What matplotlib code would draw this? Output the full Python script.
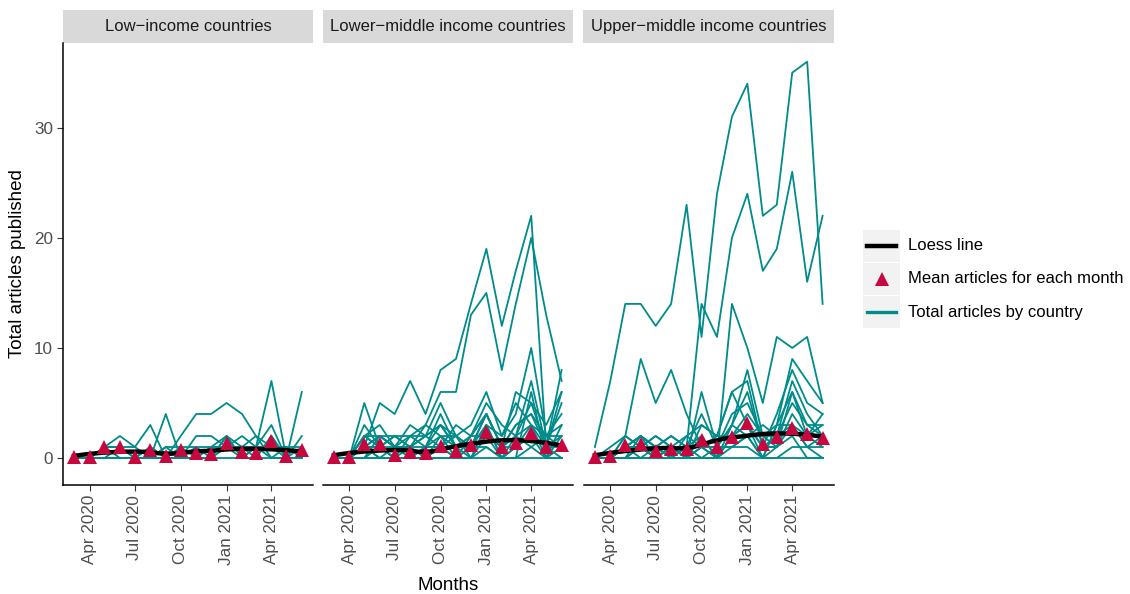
import numpy as np
import pandas as pd
import matplotlib
matplotlib.use("Agg")
import matplotlib.pyplot as plt
import matplotlib.dates as mdates
from matplotlib.patches import Rectangle
from matplotlib.lines import Line2D

plt.rcParams['font.family'] = ['Liberation Sans', 'DejaVu Sans']

# monthly data, Mar 2020 - Jun 2021
months = pd.date_range('2020-03-01', '2021-06-01', freq='MS')
groups = ['Low\u2212income countries', 'Lower\u2212middle income countries',
          'Upper\u2212middle income countries']

# total articles by country (approx)
low_income = [
    [0, 0, 1, 2, 1, 0, 0, 0, 1, 1, 1, 2, 1, 3, 0, 2],
    [0, 0, 1, 1, 1, 3, 0, 0, 0, 1, 2, 1, 1, 1, 0, 1],
    [0, 0, 0, 0, 0, 0, 4, 0, 2, 2, 1, 1, 0, 2, 0, 0],
    [0, 0, 0, 0, 0, 0, 0, 2, 4, 4, 5, 4, 2, 0, 1, 1],
    [0, 0, 1, 1, 0, 0, 1, 1, 1, 0, 2, 0, 1, 7, 0, 6],
    [0, 0, 0, 1, 0, 1, 0, 1, 0, 1, 1, 1, 2, 1, 1, 0],
    [0, 0, 0, 0, 0, 0, 0, 0, 0, 0, 0, 0, 0, 0, 0, 0],
    [0, 0, 0, 0, 0, 0, 1, 0, 0, 0, 1, 0, 0, 2, 0, 0],
    [0, 0, 1, 0, 0, 1, 0, 0, 0, 0, 2, 0, 1, 0, 0, 0],
]
lower_middle = [
    [0, 0, 1, 5, 4, 7, 4, 8, 9, 14, 19, 12, 17, 22, 1, 6],
    [0, 0, 5, 1, 2, 2, 3, 6, 6, 13, 15, 8, 14, 20, 13, 7],
    [0, 0, 2, 1, 2, 1, 2, 5, 2, 3, 6, 2, 4, 10, 2, 3],
    [0, 0, 1, 2, 1, 1, 1, 4, 1, 2, 5, 3, 2, 7, 1, 8],
    [0, 0, 0, 2, 1, 3, 2, 1, 3, 2, 4, 1, 6, 5, 3, 6],
    [0, 0, 3, 1, 0, 2, 1, 3, 2, 1, 4, 1, 3, 4, 2, 4],
    [0, 0, 1, 1, 0, 0, 1, 2, 0, 1, 3, 0, 2, 3, 1, 2],
    [0, 0, 2, 2, 1, 1, 0, 1, 1, 1, 2, 1, 1, 2, 0, 1],
    [0, 0, 0, 0, 0, 0, 1, 1, 0, 2, 2, 0, 1, 2, 1, 1],
    [0, 0, 1, 0, 0, 0, 0, 0, 0, 0, 1, 0, 0, 1, 0, 0],
    [0, 0, 0, 0, 0, 0, 0, 0, 0, 0, 0, 0, 0, 0, 0, 0],
    [0, 0, 1, 1, 0, 1, 0, 2, 1, 0, 3, 0, 1, 3, 0, 2],
    [0, 0, 0, 1, 0, 0, 0, 1, 0, 1, 1, 0, 0, 6, 0, 3],
    [0, 0, 2, 3, 1, 1, 2, 3, 1, 1, 4, 1, 2, 5, 1, 0],
    [0, 0, 1, 2, 2, 1, 3, 2, 2, 1, 3, 2, 5, 3, 2, 2],
    [0, 0, 2, 1, 1, 2, 2, 3, 1, 2, 4, 1, 3, 4, 1, 5],
    [0, 0, 1, 0, 1, 0, 1, 1, 2, 0, 2, 1, 2, 1, 2, 1],
]
upper_middle = [
    [1, 7, 14, 14, 12, 14, 23, 11, 24, 31, 34, 22, 23, 35, 36, 14],
    [0, 0, 1, 2, 1, 2, 1, 14, 11, 20, 24, 17, 19, 26, 16, 22],
    [0, 0, 0, 1, 0, 1, 0, 2, 0, 14, 10, 5, 11, 10, 11, 5],
    [0, 0, 2, 9, 5, 8, 4, 1, 2, 6, 3, 0, 3, 6, 2, 4],
    [0, 0, 1, 2, 1, 1, 0, 6, 1, 3, 8, 2, 3, 9, 7, 5],
    [0, 0, 2, 1, 2, 1, 2, 3, 2, 6, 7, 1, 4, 8, 5, 4],
    [0, 0, 1, 1, 1, 2, 1, 1, 1, 4, 5, 2, 2, 7, 4, 2],
    [0, 0, 1, 2, 0, 1, 1, 4, 1, 3, 6, 1, 2, 5, 3, 3],
    [0, 1, 2, 1, 1, 0, 1, 2, 0, 2, 3, 1, 1, 4, 2, 1],
    [0, 0, 0, 0, 1, 1, 0, 1, 1, 1, 2, 0, 3, 3, 1, 1],
    [0, 0, 1, 0, 0, 0, 1, 0, 0, 1, 1, 0, 1, 2, 0, 0],
    [0, 0, 0, 0, 0, 0, 0, 0, 0, 0, 0, 0, 0, 0, 0, 0],
    [0, 0, 1, 1, 0, 1, 0, 1, 0, 2, 3, 1, 1, 3, 1, 2],
    [0, 0, 0, 1, 0, 0, 0, 0, 1, 1, 2, 0, 0, 1, 1, 0],
    [0, 0, 1, 1, 2, 1, 0, 3, 2, 2, 4, 2, 1, 6, 3, 2],
    [0, 0, 0, 2, 1, 0, 2, 1, 0, 3, 2, 3, 2, 3, 2, 3],
]

# mean articles for each month
mean_low = [0.1, 0.1, 1.0, 1.0, 0.1, 0.7, 0.2, 0.7, 0.45, 0.4, 1.4, 0.55, 0.5, 1.55, 0.2, 0.7]
mean_lower = [0.1, 0.1, 1.27, 1.3, 0.27, 0.57, 0.5, 1.09, 0.66, 1.15, 2.4, 0.97, 1.4, 2.3, 1.0, 1.15]
mean_upper = [0.1, 0.2, 1.2, 1.25, 0.6, 0.8, 0.8, 1.6, 1.0, 1.9, 3.15, 1.3, 1.9, 2.7, 2.2, 1.8]

country_data = [low_income, lower_middle, upper_middle]
mean_data = [mean_low, mean_lower, mean_upper]

teal = '#008B8B'
red = '#C8073F'


def loess(x, y, xs, span=0.75):
    n = len(x)
    q = int(np.floor(n * span))
    out = []
    for x0 in xs:
        d = np.abs(x - x0)
        h = np.sort(d)[q - 1]
        w = np.clip(1 - (d / h) ** 3, 0, None) ** 3
        A = np.vstack([np.ones(n), x - x0, (x - x0) ** 2]).T
        sw = np.sqrt(w)
        beta = np.linalg.lstsq(A * sw[:, None], y * sw, rcond=None)[0]
        out.append(beta[0])
    return np.array(out)


W, H = 1130, 594
fig = plt.figure(figsize=(W / 100, H / 100), dpi=100)

xnum = mdates.date2num(months)
pad = (xnum[-1] - xnum[0]) * 0.05
xs = np.linspace(xnum[0], xnum[-1], 120)

lefts = [62.7, 322.5, 583.5]
pw = 250.5
top, bot = 43, 485
strip_h = 33

ticks = pd.to_datetime(['2020-04-01', '2020-07-01', '2020-10-01', '2021-01-01', '2021-04-01'])

for k in range(3):
    ax = fig.add_axes([lefts[k] / W, 1 - bot / H, pw / W, (bot - top) / H])
    for s in country_data[k]:
        ax.plot(xnum, s, color=teal, lw=1.3, zorder=2)
    ys = loess(xnum, np.array(mean_data[k]), xs)
    ax.plot(xs, ys, color='black', lw=3.2, zorder=3)
    ax.plot(xnum, mean_data[k], ls='none', marker='^', ms=10.5, color=red,
            markeredgewidth=0, zorder=4)

    ax.set_xlim(xnum[0] - pad, xnum[-1] + pad)
    ax.set_ylim(-2.45, 37.7)
    ax.set_xticks(mdates.date2num(ticks))
    ax.set_xticklabels([t.strftime('%b %Y') for t in ticks], rotation=90,
                       fontsize=12.3, color='#4D4D4D')
    ax.set_yticks([0, 10, 20, 30])
    ax.tick_params(axis='both', length=4, width=0.8, color='#333333', pad=3)
    ax.tick_params(axis='y', labelsize=12.3, labelcolor='#4D4D4D')
    for sp in ['top', 'right']:
        ax.spines[sp].set_visible(False)
    ax.spines['bottom'].set_linewidth(1.1)
    if k == 0:
        ax.spines['left'].set_linewidth(1.1)
    else:
        ax.spines['left'].set_visible(False)
        ax.tick_params(axis='y', left=False, labelleft=False)

    # facet strip
    sh = strip_h / (bot - top)
    ax.add_patch(Rectangle((0, 1), 1, sh, transform=ax.transAxes,
                           facecolor='#D9D9D9', edgecolor='none', clip_on=False))
    ax.text(0.5, 1 + sh / 2, groups[k], transform=ax.transAxes, ha='center',
            va='center', fontsize=12, color='#1A1A1A')

fig.text(18 / W, 1 - 264 / H, 'Total articles published', rotation=90,
         ha='center', va='center', fontsize=13.5)
fig.text(448 / W, 1 - 585 / H, 'Months', ha='center', va='center', fontsize=13.5)

# legend
lax = fig.add_axes([863 / W, 1 - 329 / H, 267 / W, 100 / H])
lax.set_xlim(0, 267)
lax.set_ylim(100, 0)
lax.axis('off')
labels = ['Loess line', 'Mean articles for each month', 'Total articles by country']
for i, lab in enumerate(labels):
    y0 = i * 33.3
    lax.add_patch(Rectangle((0, y0 + 0.5), 37, 32.3, facecolor='#F2F2F2', edgecolor='none'))
    yc = y0 + 16.6
    if i == 0:
        lax.add_line(Line2D([4, 33], [yc, yc], color='black', lw=3.2))
    elif i == 1:
        lax.plot([18.5], [yc], marker='^', ms=10.5, color=red, markeredgewidth=0)
    else:
        lax.add_line(Line2D([4, 33], [yc, yc], color=teal, lw=2.4))
    lax.text(45, yc, lab, ha='left', va='center', fontsize=12)

fig.savefig('out.png', dpi=100)
